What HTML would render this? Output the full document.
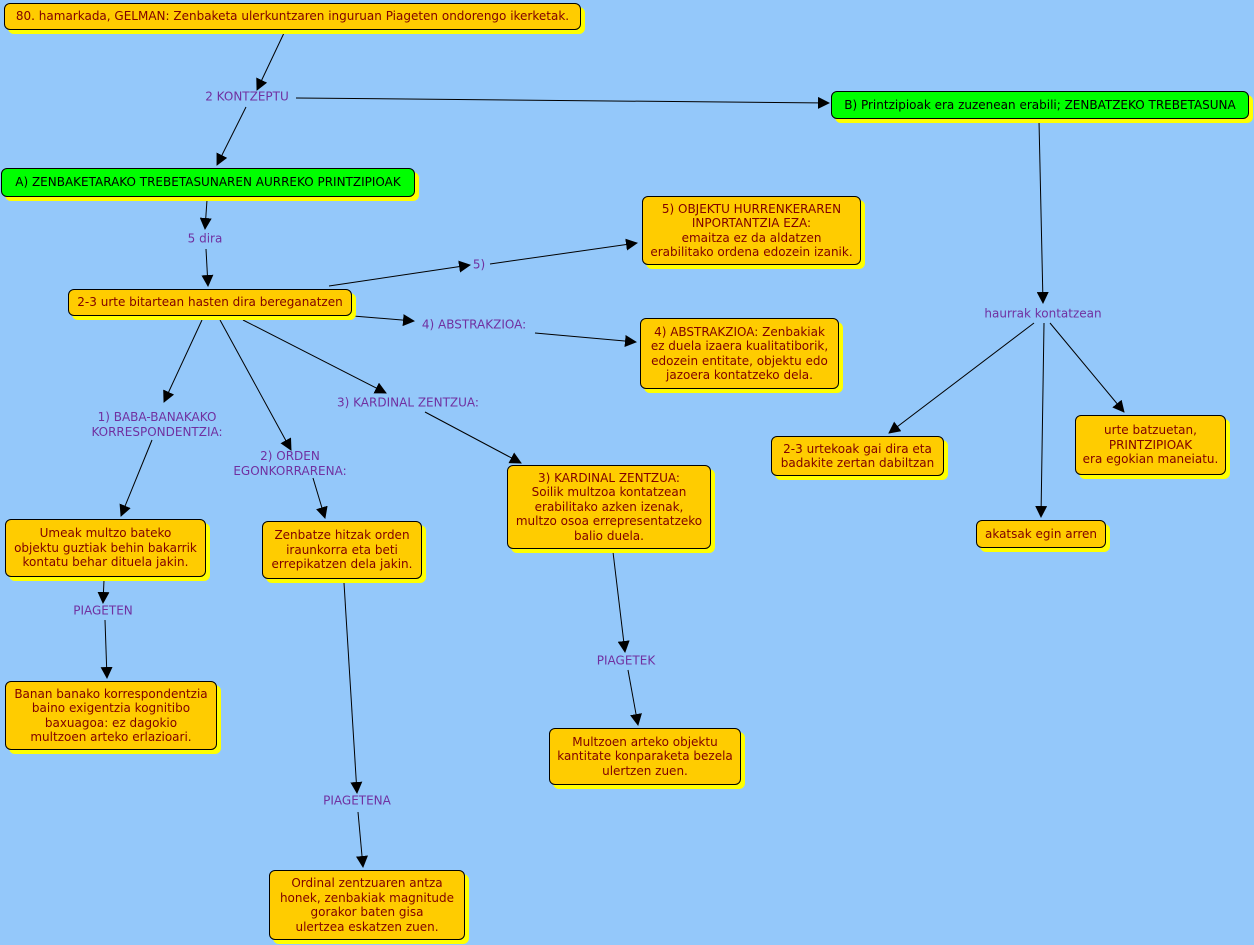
<!DOCTYPE html>
<html><head><meta charset="utf-8"><style>
body{margin:0;width:1254px;height:945px;background:#94c8fa;position:relative;overflow:hidden;font-family:"DejaVu Sans","Liberation Sans",sans-serif;font-size:12px}
.b{position:absolute;box-sizing:border-box;background:#ffcc00;border:1px solid #000;border-radius:6px;box-shadow:4px 4px 0 #ffff00;color:#800000;text-align:center;display:flex;align-items:center;justify-content:center;line-height:14.5px;white-space:nowrap}
.g{background:#00ff00;color:#000}
.l{position:absolute;color:#7030a0;text-align:center;line-height:15px;transform:translate(-50%,-50%);white-space:nowrap}
svg{position:absolute;left:0;top:0}
</style></head><body>
<svg width="1254" height="945"><defs><marker id="a" markerWidth="12" markerHeight="12" refX="11" refY="6" orient="auto" markerUnits="userSpaceOnUse"><path d="M0,0 L12,6 L0,12z" fill="#000"/></marker></defs>
<g stroke="#000" stroke-width="1" marker-end="url(#a)">
<line x1="284" y1="33" x2="257" y2="90"/>
<line x1="296" y1="98" x2="829" y2="103"/>
<line x1="246" y1="107" x2="217" y2="165"/>
<line x1="207" y1="200" x2="205" y2="229"/>
<line x1="206" y1="249" x2="208" y2="286"/>
<line x1="329" y1="286" x2="470" y2="265"/>
<line x1="490" y1="264" x2="637" y2="243"/>
<line x1="353" y1="316" x2="414" y2="321"/>
<line x1="535" y1="333" x2="636" y2="342"/>
<line x1="202" y1="320" x2="164" y2="402"/>
<line x1="220" y1="320" x2="291" y2="450"/>
<line x1="243" y1="320" x2="386" y2="393"/>
<line x1="425" y1="412" x2="521" y2="463"/>
<line x1="152" y1="440" x2="121" y2="516"/>
<line x1="313" y1="478" x2="325" y2="518"/>
<line x1="104" y1="580" x2="103" y2="603"/>
<line x1="105" y1="620" x2="107" y2="678"/>
<line x1="613" y1="552" x2="625" y2="652"/>
<line x1="628" y1="670" x2="638" y2="725"/>
<line x1="344" y1="583" x2="357" y2="793"/>
<line x1="358" y1="812" x2="363" y2="867"/>
<line x1="1039" y1="121" x2="1043" y2="303"/>
<line x1="1034" y1="323" x2="889" y2="433"/>
<line x1="1044" y1="323" x2="1041" y2="517"/>
<line x1="1050" y1="323" x2="1124" y2="412"/>
</g></svg>
<div class="b" style="left:4px;top:3px;width:577px;height:27px">80. hamarkada, GELMAN: Zenbaketa ulerkuntzaren inguruan Piageten ondorengo ikerketak.</div>
<div class="b g" style="left:831px;top:91px;width:418px;height:28px">B) Printzipioak era zuzenean erabili; ZENBATZEKO TREBETASUNA</div>
<div class="b g" style="left:1px;top:168px;width:414px;height:29px">A) ZENBAKETARAKO TREBETASUNAREN AURREKO PRINTZIPIOAK</div>
<div class="b" style="left:68px;top:289px;width:284px;height:27px">2-3 urte bitartean hasten dira bereganatzen</div>
<div class="b" style="left:642px;top:196px;width:219px;height:69px">5) OBJEKTU HURRENKERAREN<br>INPORTANTZIA EZA:<br>emaitza ez da aldatzen<br>erabilitako ordena edozein izanik.</div>
<div class="b" style="left:640px;top:318px;width:199px;height:71px">4) ABSTRAKZIOA: Zenbakiak<br>ez duela izaera kualitatiborik,<br>edozein entitate, objektu edo<br>jazoera kontatzeko dela.</div>
<div class="b" style="left:5px;top:519px;width:201px;height:58px">Umeak multzo bateko<br>objektu guztiak behin bakarrik<br>kontatu behar dituela jakin.</div>
<div class="b" style="left:262px;top:521px;width:160px;height:58px">Zenbatze hitzak orden<br>iraunkorra eta beti<br>errepikatzen dela jakin.</div>
<div class="b" style="left:507px;top:465px;width:204px;height:84px">3) KARDINAL ZENTZUA:<br>Soilik multzoa kontatzean<br>erabilitako azken izenak,<br>multzo osoa errepresentatzeko<br>balio duela.</div>
<div class="b" style="left:5px;top:681px;width:212px;height:69px">Banan banako korrespondentzia<br>baino exigentzia kognitibo<br>baxuagoa: ez dagokio<br>multzoen arteko erlazioari.</div>
<div class="b" style="left:549px;top:728px;width:192px;height:57px">Multzoen arteko objektu<br>kantitate konparaketa bezela<br>ulertzen zuen.</div>
<div class="b" style="left:269px;top:870px;width:196px;height:70px">Ordinal zentzuaren antza<br>honek, zenbakiak magnitude<br>gorakor baten gisa<br>ulertzea eskatzen zuen.</div>
<div class="b" style="left:771px;top:436px;width:173px;height:40px">2-3 urtekoak gai dira eta<br>badakite zertan dabiltzan</div>
<div class="b" style="left:1075px;top:415px;width:151px;height:60px">urte batzuetan,<br>PRINTZIPIOAK<br>era egokian maneiatu.</div>
<div class="b" style="left:976px;top:520px;width:130px;height:28px">akatsak egin arren</div>
<div class="l" style="left:247px;top:97px">2 KONTZEPTU</div>
<div class="l" style="left:205px;top:239px">5 dira</div>
<div class="l" style="left:479px;top:265px">5)</div>
<div class="l" style="left:474px;top:325px">4) ABSTRAKZIOA:</div>
<div class="l" style="left:408px;top:403px">3) KARDINAL ZENTZUA:</div>
<div class="l" style="left:157px;top:425px">1) BABA-BANAKAKO<br>KORRESPONDENTZIA:</div>
<div class="l" style="left:290px;top:464px">2) ORDEN<br>EGONKORRARENA:</div>
<div class="l" style="left:103px;top:611px">PIAGETEN</div>
<div class="l" style="left:357px;top:801px">PIAGETENA</div>
<div class="l" style="left:626px;top:661px">PIAGETEK</div>
<div class="l" style="left:1043px;top:314px">haurrak kontatzean</div>
</body></html>
